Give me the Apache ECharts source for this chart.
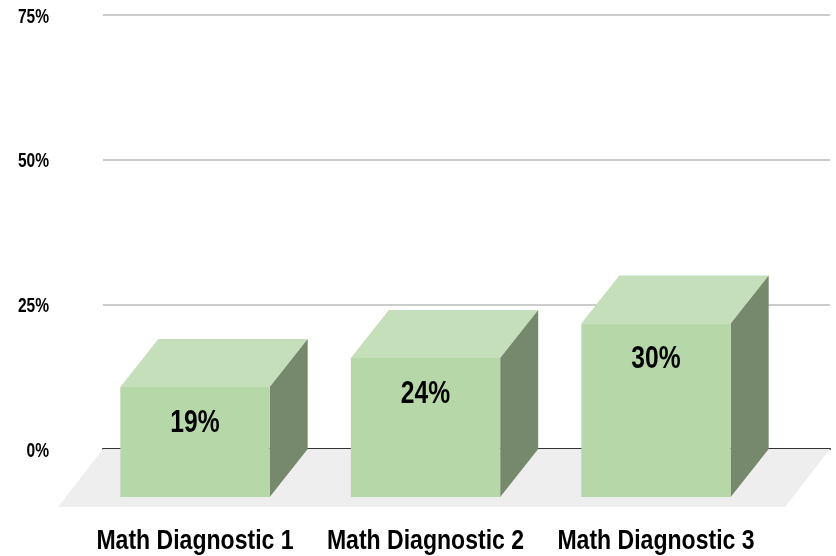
<!DOCTYPE html>
<html><head><meta charset="utf-8">
<style>html,body{margin:0;padding:0;background:#fff}#c{width:836px;height:556px}</style>
<script src="https://cdn.jsdelivr.net/npm/echarts@6/dist/echarts.min.js"></script>
</head><body><div id="c"></div>
<script>
const categories = ['Math Diagnostic 1', 'Math Diagnostic 2', 'Math Diagnostic 3'];
const values = [19, 24, 30];
const yTicks = { min: 0, max: 75, interval: 25 };
const FONT = '"Liberation Sans",Arial,sans-serif';
const DX = 38, DY = 48, FX = 45, FY = 58;

const chart = echarts.init(document.getElementById('c'), null, { renderer: 'canvas' });
chart.setOption({
  animation: false,
  backgroundColor: '#ffffff',
  grid: [
    { left: 103, right: 6, top: 15, height: 434 },
    { left: 79.75, width: 691.5, top: 15, height: 434 }
  ],
  xAxis: [
    { gridIndex: 0, type: 'category', data: [''], axisTick: { show: false }, axisLabel: { show: false },
      axisLine: { show: true, lineStyle: { color: '#333333', width: 2 } } },
    { gridIndex: 1, type: 'category', data: categories, axisTick: { show: false }, axisLine: { show: false },
      axisLabel: { margin: 78, fontFamily: FONT, fontWeight: 'bold', fontSize: 28, color: '#000', interval: 0 } }
  ],
  yAxis: [
    { gridIndex: 0, type: 'value', ...yTicks, axisLine: { show: false }, axisTick: { show: false },
      axisLabel: { margin: 54, formatter: '{value}%', fontFamily: FONT, fontWeight: 'bold', fontSize: 21, color: '#000' },
      splitLine: { show: true, lineStyle: { color: '#cccccc', width: 2 } } },
    { gridIndex: 1, type: 'value', ...yTicks, show: false, splitLine: { show: false } }
  ],
  series: [
    {
      type: 'custom', xAxisIndex: 0, yAxisIndex: 0, z: 1, silent: true, data: [[0, 0]],
      renderItem(params, api) {
        const g = params.coordSys;
        const y0 = api.coord([0, 0])[1];
        return { type: 'polygon', shape: { points: [
          [g.x, y0], [g.x + g.width, y0], [g.x + g.width - FX, y0 + FY], [g.x - FX, y0 + FY]
        ] }, style: { fill: '#eeeeee' } };
      }
    },
    {
      type: 'custom', xAxisIndex: 1, yAxisIndex: 1, z: 5, silent: true,
      data: values.map((v, i) => [i, v]),
      renderItem(params, api) {
        const i = api.value(0), v = api.value(1);
        const top = api.coord([i, v]), base = api.coord([i, 0]);
        const w = api.size([1, 0])[0] * 0.648;
        const x0 = top[0] - w / 2, x1 = top[0] + w / 2;
        const yt = top[1] + DY, yb = base[1] + DY;
        return { type: 'group', children: [
          { type: 'polygon', shape: { points: [[x0, yt], [x1, yt], [x1 + DX, yt - DY], [x0 + DX, yt - DY]] }, style: { fill: '#c5dfba' } },
          { type: 'polygon', shape: { points: [[x1, yt], [x1 + DX, yt - DY], [x1 + DX, yb - DY], [x1, yb]] }, style: { fill: '#77896d' } },
          { type: 'rect', shape: { x: x0, y: yt, width: w, height: yb - yt }, style: { fill: '#b6d7a8' } },
          { type: 'text', x: top[0], y: yt + 36, scaleX: 0.77, style: { text: v + '%', fill: '#000', align: 'center', verticalAlign: 'middle',
            font: 'bold 32px ' + FONT } }
        ] };
      }
    }
  ]
});

// The reference's axis text is horizontally condensed; ECharts axis labels have no width scale option.
const zr = chart.getZr();
const dataLabels = values.map(v => v + '%');
zr.storage.getDisplayList(true, true).forEach(function (el) {
  const t = el.style && el.style.text;
  if (typeof t !== 'string') return;
  if (categories.indexOf(t) >= 0) { el.scaleX = 0.823; el.dirty(); }
  else if (/^\d+%$/.test(t) && !dataLabels.includes(t)) { el.scaleX = 0.74; el.y += 2; el.dirty(); }
});
zr.refreshImmediately();
</script></body></html>
